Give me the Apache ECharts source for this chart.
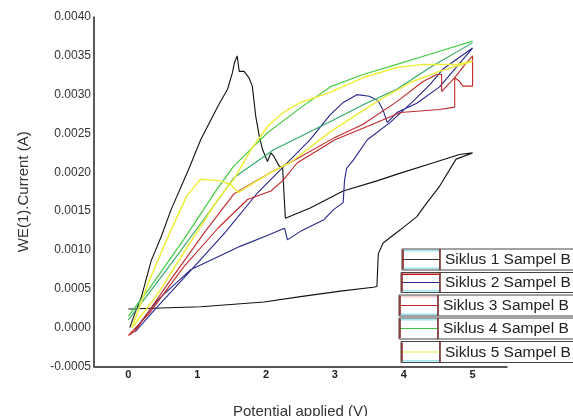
<!DOCTYPE html>
<html>
<head>
<meta charset="utf-8">
<script src="https://cdn.jsdelivr.net/npm/echarts@6/dist/echarts.min.js"></script>
<style>
  html, body { margin: 0; padding: 0; background: #fff; }
  #chart { width: 573px; height: 416px; }
</style>
</head>
<body>
<div id="chart"></div>
<script>
// Kurven pro Zyklus: Hinweg (0 -> 5 V) und Rückweg (5 -> 0 V), [Potential V, Strom A]
const cycle1Forward = [[0.02, 0.0], [0.1, 0.0002], [0.19, 0.0004], [0.33, 0.00086], [0.48, 0.00118], [0.62, 0.00152],
  [0.88, 0.00205], [1.05, 0.00242], [1.3, 0.00285], [1.44, 0.00307], [1.51, 0.00328], [1.54, 0.00341], [1.58, 0.0035],
  [1.61, 0.0033], [1.68, 0.0033], [1.75, 0.00322], [1.8, 0.00311], [1.85, 0.00272], [1.9, 0.00247], [1.95, 0.00229],
  [2.02, 0.00214], [2.07, 0.00225], [2.11, 0.00221], [2.19, 0.00208], [2.24, 0.00206], [2.28, 0.00141], [2.64, 0.00154],
  [3.12, 0.00176], [3.61, 0.00189], [3.95, 0.00199], [4.42, 0.00212], [4.81, 0.00223], [5.0, 0.00225]];
const cycle1Reverse = [[5.0, 0.00225], [4.76, 0.00217], [4.52, 0.00182], [4.33, 0.0016], [4.19, 0.00143], [3.95, 0.00126],
  [3.7, 0.00109], [3.63, 0.00095], [3.61, 0.00053], [3.56, 0.00052], [3.08, 0.00047], [2.5, 0.0004], [1.97, 0.00033],
  [1.05, 0.00027], [0.0, 0.00024]];

const cycle2Forward = [[0.09, -0.00003], [0.43, 0.00036], [0.91, 0.00075], [1.63, 0.00105], [2.0, 0.00118], [2.24, 0.00127],
  [2.27, 0.00128], [2.31, 0.00113], [2.5, 0.00124], [2.84, 0.00139], [2.98, 0.00152], [3.12, 0.00161], [3.14, 0.0019],
  [3.17, 0.00205], [3.27, 0.00216], [3.47, 0.00242], [3.8, 0.00264], [4.13, 0.00291], [4.38, 0.00313], [4.57, 0.00333],
  [5.0, 0.0036]];
const cycle2Reverse = [[5.0, 0.0036], [4.52, 0.0031], [4.19, 0.00289], [3.9, 0.00277], [3.76, 0.00264], [3.7, 0.0028],
  [3.63, 0.00292], [3.5, 0.00298], [3.32, 0.003], [3.12, 0.0029], [2.93, 0.00274], [2.64, 0.00242], [2.25, 0.00207],
  [1.88, 0.00174], [1.4, 0.00122], [0.9, 0.00073], [0.38, 0.00023], [0.1, -0.00005]];

const cycle3Forward = [[0.0, -0.0001], [0.3, 0.00018], [0.8, 0.00078], [1.3, 0.00128], [1.73, 0.00165], [2.07, 0.00176],
  [2.25, 0.0019], [2.45, 0.00212], [3.0, 0.00242], [3.47, 0.00259], [3.95, 0.00277], [4.52, 0.00281], [4.74, 0.00284],
  [4.74, 0.00322], [4.8, 0.00318], [4.86, 0.00311], [5.0, 0.00311], [5.0, 0.0035]];
const cycle3Reverse = [[5.0, 0.0035], [4.9, 0.0034], [4.74, 0.00322], [4.55, 0.00304], [4.55, 0.00326], [4.48, 0.00326],
  [4.28, 0.00317], [3.9, 0.00291], [3.41, 0.00262], [3.0, 0.00245], [2.36, 0.00213], [2.07, 0.002], [1.53, 0.00172],
  [1.1, 0.00122], [0.6, 0.0006], [0.1, -0.00004], [0.0, -0.0001]];

const cycle4Forward = [[0.0, 0.0001], [0.5, 0.00068], [1.0, 0.00128], [1.34, 0.00169], [1.53, 0.00193], [2.11, 0.00229],
  [2.5, 0.00246], [3.08, 0.00272], [3.41, 0.00287], [3.9, 0.00307], [4.38, 0.00335], [5.0, 0.00367]];
const cycle4Reverse = [[5.0, 0.00369], [4.38, 0.00352], [3.9, 0.00339], [3.41, 0.00326], [2.93, 0.0031], [2.5, 0.00283],
  [2.02, 0.00251], [1.53, 0.00208], [1.3, 0.0018], [0.8, 0.00113], [0.3, 0.0005], [0.0, 0.00015]];

const cycle5Forward = [[0.05, 0.0], [0.3, 0.0006], [0.6, 0.00122], [0.85, 0.0017], [1.05, 0.00191], [1.34, 0.00189],
  [1.49, 0.00184], [1.59, 0.00174], [2.07, 0.002], [2.36, 0.00213], [2.93, 0.00252], [3.66, 0.00294], [4.13, 0.00317],
  [4.52, 0.0033], [5.0, 0.00343]];
const cycle5Reverse = [[5.0, 0.00343], [4.77, 0.00339], [4.28, 0.00339], [3.9, 0.00335], [3.41, 0.00322], [2.93, 0.00303],
  [2.5, 0.0029], [2.25, 0.00277], [2.02, 0.00259], [1.78, 0.00229], [1.53, 0.00191], [1.3, 0.00165], [0.9, 0.0011],
  [0.4, 0.0004], [0.05, 0.0]];

const legendNames = ['Siklus 1 Sampel B', 'Siklus 2 Sampel B', 'Siklus 3 Sampel B', 'Siklus 4 Sampel B', 'Siklus 5 Sampel B'];
const xTickLabels = [0, 1, 2, 3, 4, 5];

const chart = echarts.init(document.getElementById('chart'), null, { renderer: 'canvas' });

function curve(name, data, color, width) {
  return {
    name: name,
    type: 'line',
    data: data,
    showSymbol: false,
    symbol: 'none',
    clip: false,
    lineStyle: { color: color, width: width },
    itemStyle: { color: color },
    z: 2
  };
}

// Legendenkästen wie im Original (rechts abgeschnitten)
const legendBoxes = [
  { x: 402, y: 249, h: 21, w: 38, line: '#333', top: '#9be8ee', bottom: '#9be8ee' },
  { x: 401, y: 272.5, h: 20, w: 39, line: '#2a2a90', top: '#c01818', bottom: '#9be8ee' },
  { x: 399, y: 295, h: 21, w: 39, line: '#c0282a', top: '#f4d0d0', bottom: '#9be8ee' },
  { x: 399, y: 318, h: 21, w: 39, line: '#3cbf3c', top: '#9be8ee', bottom: '#ffffff' },
  { x: 401, y: 341.5, h: 21, w: 39, line: '#eeee40', top: '#ffffff', bottom: '#9be8ee' }
];

const graphics = [];
legendBoxes.forEach(function (b, i) {
  graphics.push(
    { type: 'rect', shape: { x: b.x, y: b.y, width: b.w, height: b.h }, style: { fill: '#fff', stroke: '#444', lineWidth: 1 }, z: 10 },
    { type: 'rect', shape: { x: b.x + 1, y: b.y + 1, width: b.w - 2, height: 1.5 }, style: { fill: b.top }, z: 11 },
    { type: 'rect', shape: { x: b.x + 1, y: b.y + b.h - 2.5, width: b.w - 2, height: 1.5 }, style: { fill: b.bottom }, z: 11 },
    { type: 'line', shape: { x1: b.x + 1, y1: b.y + b.h / 2, x2: b.x + b.w, y2: b.y + b.h / 2 }, style: { stroke: b.line, lineWidth: 1.2 }, z: 12 },
    { type: 'line', shape: { x1: b.x + 1, y1: b.y + 1, x2: b.x + 1, y2: b.y + b.h - 1 }, style: { stroke: '#8b1a1a', lineWidth: 1.5 }, z: 12 },
    { type: 'line', shape: { x1: b.x + b.w, y1: b.y, x2: b.x + b.w, y2: b.y + b.h }, style: { stroke: '#8b1a1a', lineWidth: 1 }, z: 12 },
    { type: 'rect', shape: { x: b.x + b.w, y: b.y, width: 220, height: b.h }, style: { fill: '#fff', stroke: '#444', lineWidth: 1 }, z: 10 },
    { type: 'text', x: b.x + b.w + 5, y: b.y + b.h / 2 + 0.5,
      style: { text: legendNames[i], font: '15.5px "Liberation Sans", Arial, sans-serif', fill: '#222', verticalAlign: 'middle' }, z: 13 }
  );
});

chart.setOption({
  animation: false,
  backgroundColor: '#fff',
  grid: { left: 94, right: 66, top: 17, bottom: 49.5, containLabel: false, outerBoundsMode: 'none' },
  xAxis: {
    type: 'value',
    min: -0.5,
    max: 5.5,
    interval: 0.5,
    name: 'Potential applied (V)',
    nameLocation: 'middle',
    nameGap: 38,
    nameTextStyle: { fontFamily: 'Liberation Sans', fontSize: 15, color: '#333' },
    axisLine: { onZero: false, lineStyle: { color: '#222', width: 1.5 } },
    axisTick: { show: false },
    splitLine: { show: false },
    axisLabel: {
      margin: 3,
      fontFamily: 'Liberation Sans',
      fontSize: 11,
      fontWeight: 'bold',
      color: '#222',
      formatter: function (v) {
        return xTickLabels.indexOf(v) >= 0 ? String(v) : '';
      }
    }
  },
  yAxis: {
    type: 'value',
    min: -0.0005,
    max: 0.004,
    interval: 0.0005,
    name: 'WE(1).Current (A)',
    nameLocation: 'middle',
    nameRotate: 90,
    nameGap: 63,
    nameTextStyle: { fontFamily: 'Liberation Sans', fontSize: 15, color: '#333' },
    axisLine: { show: true, onZero: false, lineStyle: { color: '#222', width: 1.5 } },
    axisTick: { show: false },
    splitLine: { show: false },
    axisLabel: {
      margin: 3,
      fontFamily: 'Liberation Sans',
      fontSize: 12,
      color: '#333',
      formatter: function (v) { return v.toFixed(4); }
    }
  },
  graphic: graphics,
  series: [
    curve(legendNames[0], cycle1Forward.concat(cycle1Reverse), '#111111', 1.1),
    curve(legendNames[1], cycle2Forward.concat(cycle2Reverse), '#27278c', 1.1),
    curve(legendNames[2], cycle3Forward.concat(cycle3Reverse), '#c0282a', 1.1),
    curve(legendNames[3] + ' maju', cycle4Forward, '#2fa864', 1.1),
    curve(legendNames[3], cycle4Reverse, '#44cc44', 1.2),
    curve(legendNames[4], cycle5Forward.concat(cycle5Reverse), '#eeee3a', 1.5)
  ]
});
</script>
</body>
</html>
